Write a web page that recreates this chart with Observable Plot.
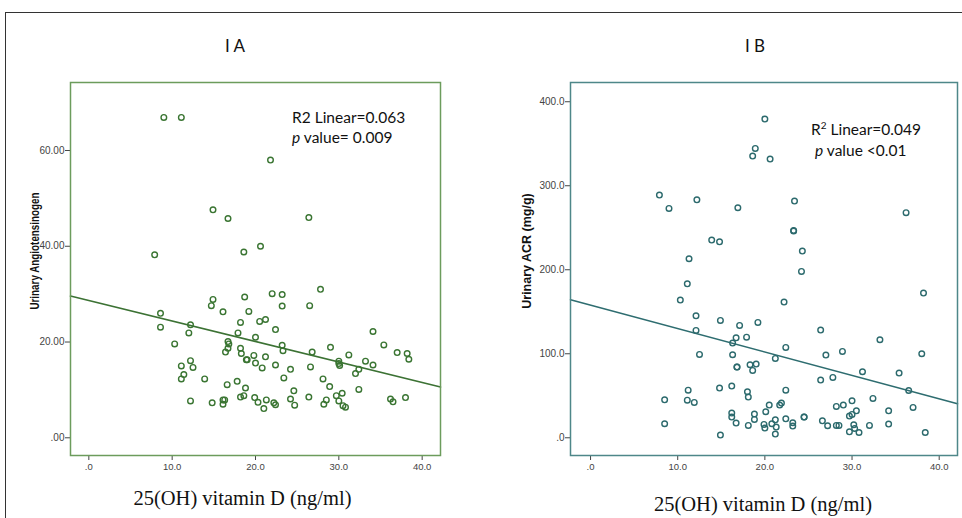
<!DOCTYPE html>
<html><head><meta charset="utf-8">
<script src="https://cdn.jsdelivr.net/npm/d3@7"></script>
<script src="https://cdn.jsdelivr.net/npm/@observablehq/plot@0.6"></script>
<style>
body{margin:0;background:#fff;}
#wrap{position:relative;width:962px;height:518px;overflow:hidden;background:#fff;}
#box{position:absolute;left:5px;top:12px;width:1000px;height:600px;border-top:1.5px solid #333;border-left:1.5px solid #333;}
.panel{position:absolute;top:0;}
#overlay{position:absolute;left:0;top:0;pointer-events:none;}
</style>
</head><body>
<div id="wrap"><div id="box"></div><div id="pA" class="panel" style="left:0"></div><div id="pB" class="panel" style="left:481px"></div></div>
<script>
// ---- Panel A data: 25(OH) vitamin D vs Urinary Angiotensinogen ----
const vitDA = [9.0,11.1,21.8,14.9,16.7,26.4,7.9,18.6,20.6,
  8.6,8.6,12.2,12.0,10.3,14.9,14.7,16.1,18.7,19.2,18.2,20.5,21.2,17.9,20.0,22.0,23.2,23.2,22.4,26.5,27.8,
  16.7,16.8,16.7,16.4,18.2,18.3,18.9,19.0,19.8,20.0,21.2,20.8,22.4,23.2,23.3,23.4,24.2,26.8,26.6,29.0,28.1,28.9,
  30.0,30.1,30.0,31.2,32.0,32.4,33.2,34.1,34.1,35.4,37.0,38.2,38.4,32.4,
  11.1,11.4,11.1,12.2,12.5,13.9,12.2,14.8,16.1,16.3,16.1,16.6,17.8,18.8,18.6,18.2,19.9,20.3,21.0,21.3,22.2,22.4,
  24.2,24.6,24.7,26.4,28.2,28.5,29.7,30.4,30.0,30.5,30.8,36.2,36.5,38.0];
const angioA = [66.9,66.9,58.0,47.6,45.8,46.0,38.2,38.8,40.0,
  26.0,23.1,23.6,21.9,19.6,28.9,27.6,26.3,29.4,26.4,24.1,24.3,24.7,21.9,21.0,30.1,29.9,27.5,22.6,27.6,31.0,
  20.1,19.6,18.7,17.9,18.7,17.6,16.3,16.3,17.2,15.6,16.9,14.6,15.2,19.3,18.2,12.5,14.3,17.9,14.8,18.9,12.3,10.7,
  16.0,15.1,15.5,17.3,13.4,14.3,16.0,22.2,15.2,19.4,17.8,17.6,16.4,10.1,
  15.0,13.2,12.3,16.1,14.7,12.3,7.7,7.3,7.9,7.9,7.0,11.1,11.8,10.4,8.8,8.5,8.4,7.4,6.1,7.9,7.3,6.9,
  8.1,9.8,6.8,8.5,7.0,7.9,8.8,9.3,7.7,6.7,6.4,8.1,7.5,8.4];
const fitXA = [-2.2, 42.2];
const fitYA = [29.6, 10.6];
const ticksXA = [0, 10, 20, 30, 40];
const ticksYA = [0, 20, 40, 60];

// ---- Panel B data: 25(OH) vitamin D vs Urinary ACR (mg/g) ----
const vitDB = [20.0,18.9,18.6,20.6,7.9,9.0,12.2,16.9,23.4,23.3,23.3,36.2,13.9,14.8,24.3,11.3,24.2,
  11.1,10.3,12.1,12.1,12.5,14.9,17.1,19.2,16.3,16.7,17.9,16.3,16.8,16.8,18.3,19.0,18.6,
  22.2,22.4,21.2,26.4,27.0,28.9,26.4,27.8,31.2,33.2,35.4,36.5,38.2,38.0,37.0,38.4,
  8.5,8.5,11.2,11.1,11.9,14.8,14.9,16.2,16.2,16.2,16.7,18.0,18.1,18.1,18.8,18.8,20.1,20.5,19.9,20.0,20.8,21.2,21.3,21.2,
  21.7,21.9,22.4,22.4,23.2,23.2,24.5,24.5,26.6,27.2,28.2,28.2,28.5,29.0,30.0,29.7,30.0,30.5,30.2,30.3,29.7,30.8,32.4,32.0,34.2,34.2];
const acrB = [379.4,344.4,335.3,331.7,288.9,273.0,283.3,273.8,281.7,246.8,246.0,267.9,235.3,233.3,222.2,213.1,198.0,
  183.3,163.9,145.2,127.8,99.2,139.7,133.7,137.3,112.7,119.0,119.8,98.8,84.1,84.1,86.9,87.7,80.2,
  161.5,107.5,94.4,128.2,98.4,102.8,68.7,71.8,78.6,116.7,77.0,56.3,172.2,100.0,36.1,6.3,
  45.2,16.7,56.7,44.8,42.1,59.1,3.2,61.5,29.4,24.6,17.5,54.8,48.4,14.7,28.2,21.8,31.0,38.9,15.9,11.5,16.7,21.4,12.7,4.4,
  38.9,41.3,56.7,22.6,17.9,13.9,24.6,24.6,20.2,14.3,37.3,14.7,14.7,38.9,44.0,25.8,27.8,32.1,15.5,11.1,7.1,6.3,46.8,14.7,32.1,16.3];
const fitXB = [-2.3, 42.1];
const fitYB = [164.3, 40.5];
const ticksXB = [0, 10, 20, 30, 40];
const ticksYB = [0, 100, 200, 300, 400];

const dataA = vitDA.map((x, i) => ({x, y: angioA[i]}));
const dataB = vitDB.map((x, i) => ({x, y: acrB[i]}));
const fitA = fitXA.map((x, i) => ({x, y: fitYA[i]}));
const fitB = fitXB.map((x, i) => ({x, y: fitYB[i]}));

const fmt = (dec, zero) => d => d === 0 ? zero : d.toFixed(dec);

function panel(data, fit, o) {
  return Plot.plot({
    width: 481, height: 518,
    marginLeft: o.ml, marginRight: o.mr, marginTop: 82, marginBottom: 63,
    style: {fontFamily: "'Liberation Sans', Arial, sans-serif", background: "transparent", overflow: "visible"},
    x: {domain: o.xd},
    y: {domain: o.yd},
    marks: [
      Plot.axisY({ticks: o.ty, tickFormat: fmt(o.ydec, o.yzero), tickSize: 5, tickPadding: 1, fontSize: 10, color: "#444", label: null}),
      Plot.axisX({ticks: o.tx, tickFormat: fmt(1, ".0"), tickSize: 5, tickPadding: 3, fontSize: 9.5, color: "#444", label: null}),
      Plot.line(fit, {x: "x", y: "y", stroke: o.line, strokeWidth: 1.6}),
      Plot.dot(data, {x: "x", y: "y", r: 2.8, stroke: o.dot, strokeWidth: 1.4, fill: "none"}),
      Plot.frame({stroke: o.frame, strokeWidth: 1.5})
    ]
  });
}

document.getElementById("pA").append(panel(dataA, fitA, {
  ml: 70, mr: 41, xd: [-2.2, 42.2], yd: [-3.7, 74.2], tx: ticksXA, ty: ticksYA, ydec: 2, yzero: ".00",
  line: "#3c7234", dot: "#3a7532", frame: "#6c9c5c"
}));
document.getElementById("pB").append(panel(dataB, fitB, {
  ml: 89, mr: 5, xd: [-2.3, 42.1], yd: [-21.1, 422.9], tx: ticksXB, ty: ticksYB, ydec: 1, yzero: ".0",
  line: "#2e6d70", dot: "#2c6a6d", frame: "#4e8789"
}));

// ---- text overlay ----
const svgNS = "http://www.w3.org/2000/svg";
const ov = document.createElementNS(svgNS, "svg");
ov.setAttribute("id", "overlay");
ov.setAttribute("width", 962); ov.setAttribute("height", 518);
ov.innerHTML = `
<g font-family="Lato, 'Open Sans', sans-serif" fill="#111">
  <text x="235" y="52" font-size="17" text-anchor="middle">I A</text>
  <text x="755" y="52" font-size="17" text-anchor="middle">I B</text>
  <text x="292" y="123" font-size="15.5">R2 Linear=0.063</text>
  <text x="292" y="143" font-size="15.5"><tspan font-style="italic">p</tspan> value=  0.009</text>
  <text x="811" y="135" font-size="15.5">R<tspan font-size="10" dy="-6">2</tspan><tspan dy="6"> Linear=0.049</tspan></text>
  <text x="815" y="156" font-size="15.5"><tspan font-style="italic">p</tspan> value &lt;0.01</text>
</g>
<g font-family="'Liberation Serif', 'Times New Roman', serif" fill="#111" font-size="20.5" text-anchor="middle">
  <text x="242.5" y="505">25(OH) vitamin D (ng/ml)</text>
  <text x="763" y="511">25(OH) vitamin D (ng/ml)</text>
</g>
<g font-family="'Liberation Sans', Arial, sans-serif" font-weight="bold" fill="#111" text-anchor="middle">
  <text font-size="12" transform="translate(39,251) rotate(-90) scale(0.82,1)">Urinary Angiotensinogen</text>
  <text font-size="12.5" transform="translate(531,251) rotate(-90)">Urinary ACR (mg/g)</text>
</g>`;
document.getElementById("wrap").append(ov);
</script>
</body></html>
